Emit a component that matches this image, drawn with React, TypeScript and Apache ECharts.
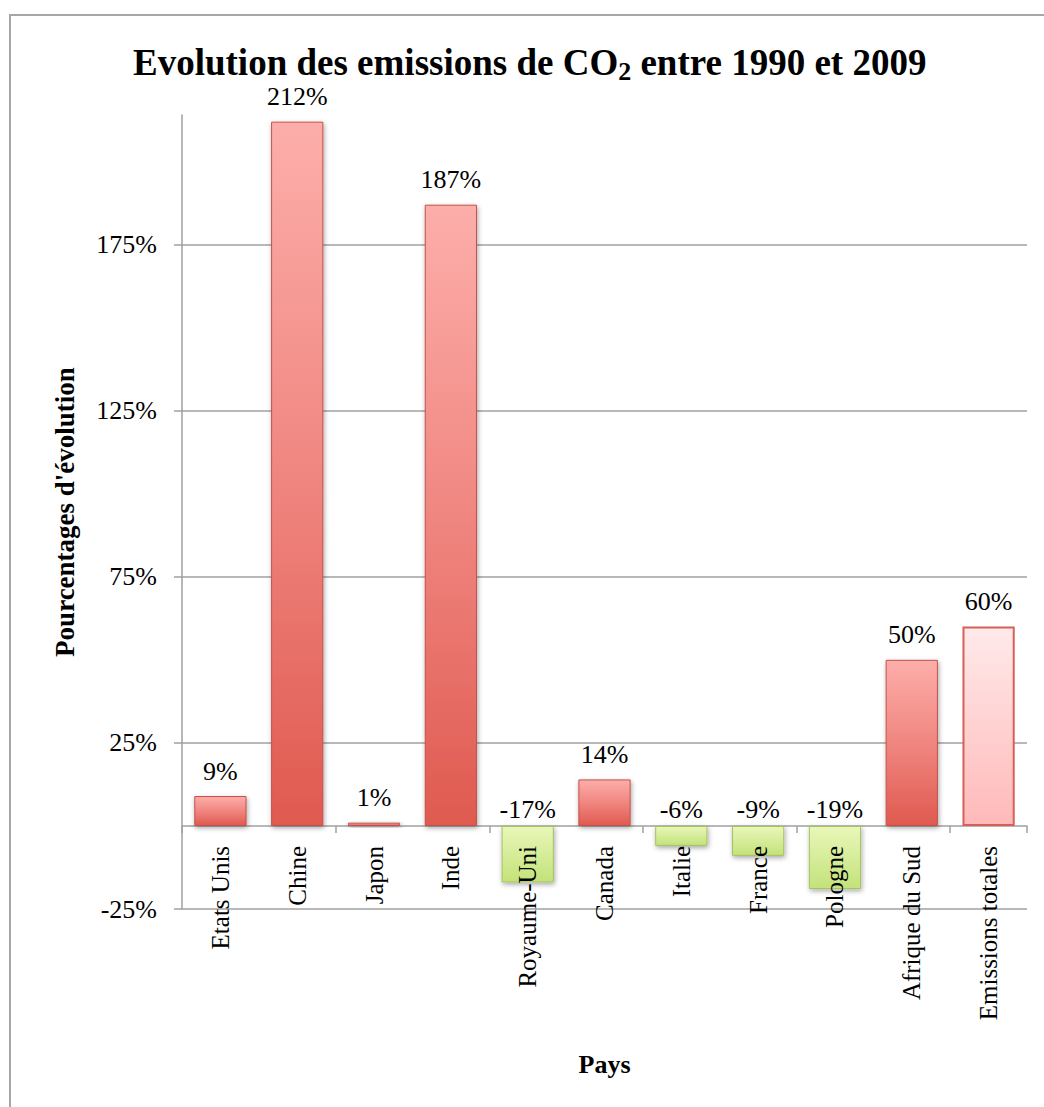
import React, { useEffect, useRef } from "react";
import * as echarts from "echarts";

const TITLE_MAIN = "Evolution des emissions de CO";
const TITLE_SUB = "2";
const TITLE_REST = " entre 1990 et 2009";
const CATEGORIES = [
  "Etats Unis",
  "Chine",
  "Japon",
  "Inde",
  "Royaume-Uni",
  "Canada",
  "Italie",
  "France",
  "Pologne",
  "Afrique du Sud",
  "Emissions totales",
];
const VALUES = [9, 212, 1, 187, -17, 14, -6, -9, -19, 50, 60];
const TOTAL_INDEX = 10;
const Y_TICKS = [-25, 25, 75, 125, 175];
const Y_MIN = -25;
const Y_MAX = 214;
const X_NAME = "Pays";
const Y_NAME = "Pourcentages d'évolution";

const FONT = "'Liberation Serif', 'Times New Roman', serif";

function grad(stops: [number, string][]) {
  return new echarts.graphic.LinearGradient(
    0,
    0,
    0,
    1,
    stops.map(([offset, color]) => ({ offset, color }))
  );
}

function styleFor(v: number, i: number) {
  if (i === TOTAL_INDEX) {
    return {
      color: grad([
        [0, "#ffeaea"],
        [1, "#ffb9b9"],
      ]),
      borderColor: "#d75f59",
      borderWidth: 2,
    };
  }
  if (v < 0) {
    return {
      color: grad([
        [0, "#e9f7b9"],
        [1, "#c3e27a"],
      ]),
      borderColor: "#a3c262",
      borderWidth: 1,
      shadowBlur: 5,
      shadowColor: "rgba(0,0,0,0.35)",
      shadowOffsetX: 1,
      shadowOffsetY: 2,
    };
  }
  return {
    color: grad([
      [0, "#fdaeaa"],
      [0.5, "#f08680"],
      [1, "#df5a50"],
    ]),
    borderColor: "#c4504a",
    borderWidth: 1,
    shadowBlur: 5,
    shadowColor: "rgba(0,0,0,0.35)",
    shadowOffsetX: 1,
    shadowOffsetY: 2,
  };
}

export default function App() {
  const ref = useRef<HTMLDivElement>(null);
  useEffect(() => {
    if (!ref.current) return;
    const chart = echarts.init(ref.current, undefined, { renderer: "svg" });
    const data = VALUES.map((v, i) => ({
      value: v,
      itemStyle: styleFor(v, i),
      label: { distance: v < 0 ? 3 : 12 },
    }));
    const gridBottom = 198;
    const chartH = 1107;
    const gridTop = 115;
    const plotH = chartH - gridTop - gridBottom;
    // pixel offset of the zero line above the grid bottom
    const zeroOffset = (plotH * (0 - Y_MIN)) / (Y_MAX - Y_MIN);
    chart.setOption({
      animation: false,
      backgroundColor: "#ffffff",
      textStyle: { fontFamily: FONT },
      title: {
        text: `{a|${TITLE_MAIN}}{s|${TITLE_SUB}}{a|${TITLE_REST}}`,
        left: 133,
        top: 40,
        padding: 0,
        textStyle: {
          rich: {
            a: {
              fontFamily: FONT,
              fontSize: 37,
              fontWeight: "bold",
              color: "#000",
              lineHeight: 44,
            },
            s: {
              fontFamily: FONT,
              fontSize: 26,
              fontWeight: "bold",
              color: "#000",
              lineHeight: 22,
              verticalAlign: "bottom",
            },
          },
        },
      },
      graphic: [
        {
          type: "rect",
          z: -10,
          shape: { x: 10, y: 15, width: 1200, height: 1300 },
          style: { fill: "none", stroke: "#a6a6a6", lineWidth: 2 },
        },
      ],
      grid: {
        left: 182,
        right: 17,
        top: gridTop,
        bottom: gridBottom,
        containLabel: false,
        outerBoundsMode: "none",
      },
      xAxis: [
        {
          type: "category",
          data: CATEGORIES,
          position: "bottom",
          axisLine: { onZero: true, lineStyle: { color: "#a0a0a0", width: 1.5 } },
          axisTick: { show: true, length: 7, lineStyle: { color: "#a0a0a0", width: 1.5 } },
          axisLabel: { show: false },
        },
        {
          type: "category",
          data: CATEGORIES,
          position: "bottom",
          offset: -zeroOffset,
          z: 10,
          name: X_NAME,
          nameLocation: "middle",
          nameGap: 226,
          nameMoveOverlap: false,
          nameTextStyle: {
            fontFamily: FONT,
            fontSize: 26,
            fontWeight: "bold",
            color: "#000",
          },
          axisLine: { show: false, onZero: false },
          axisTick: { show: false },
          axisLabel: {
            interval: 0,
            rotate: 90,
            margin: 20,
            fontFamily: FONT,
            fontSize: 25,
            color: "#000",
          },
        },
      ],
      yAxis: {
        type: "value",
        min: Y_MIN,
        max: Y_MAX,
        name: Y_NAME,
        nameLocation: "middle",
        nameGap: 104,
        nameTextStyle: {
          fontFamily: FONT,
          fontSize: 27,
          fontWeight: "bold",
          color: "#000",
        },
        axisLine: { show: true, lineStyle: { color: "#a0a0a0", width: 1.5 } },
        axisTick: {
          show: true,
          length: 8,
          customValues: Y_TICKS,
          lineStyle: { color: "#a0a0a0", width: 1.5 },
        },
        axisLabel: {
          customValues: Y_TICKS,
          margin: 25,
          fontFamily: FONT,
          fontSize: 26,
          color: "#000",
          formatter: (v: number) => `${v}%`,
        },
        splitLine: { show: false },
      },
      series: [
        {
          type: "bar",
          data,
          barWidth: "68%",
          z: 2,
          label: {
            show: true,
            position: "top",
            fontFamily: FONT,
            fontSize: 26,
            color: "#000",
            formatter: (p: any) => `${p.value}%`,
          },
          markLine: {
            silent: true,
            z: 1,
            symbol: "none",
            label: { show: false },
            lineStyle: { color: "#a0a0a0", width: 1.5, type: "solid" },
            data: Y_TICKS.map((t) => ({ yAxis: t })),
          },
        },
      ],
    });
    return () => chart.dispose();
  }, []);
  return (
    <div
      ref={ref}
      style={{ position: "absolute", left: 0, top: 0, width: 1044, height: 1107 }}
    />
  );
}
